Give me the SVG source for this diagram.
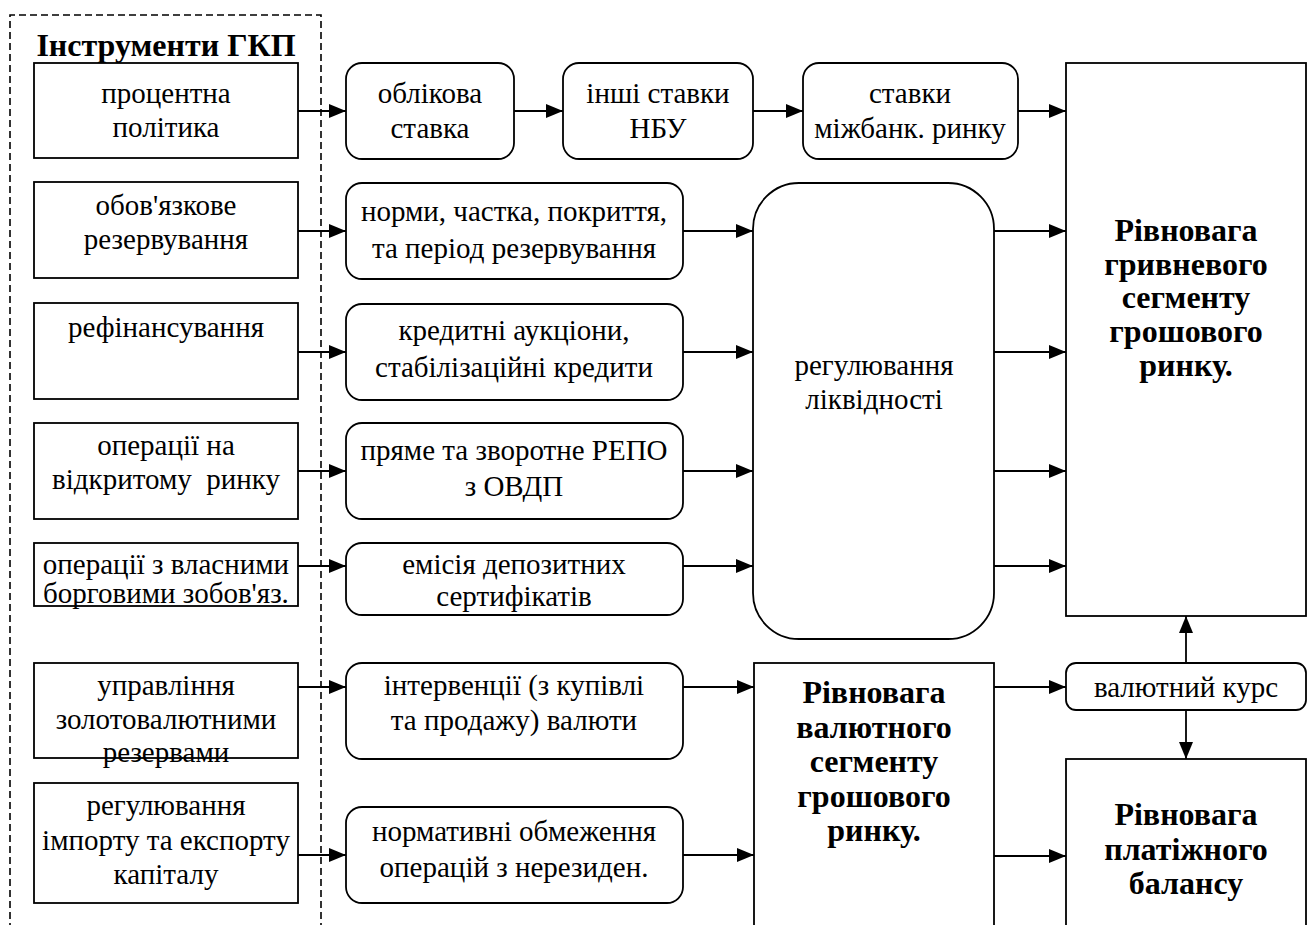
<svg xmlns="http://www.w3.org/2000/svg" width="1307" height="925" viewBox="0 0 1307 925">
<style>
.b{fill:#fff;stroke:#000;stroke-width:1.8}
.t{font-family:'Liberation Serif','Times New Roman',serif;font-size:29px;fill:#000;text-anchor:middle}
.tb{font-family:'Liberation Serif','Times New Roman',serif;font-size:32px;font-weight:bold;fill:#000;text-anchor:middle}
.c{stroke:#000;stroke-width:1.8;fill:none;marker-end:url(#ah)}
</style>
<defs>
<marker id="ah" markerUnits="userSpaceOnUse" markerWidth="17" markerHeight="14" refX="17" refY="7" orient="auto">
<path d="M0,0 L17,7 L0,14 z" fill="#000"/>
</marker>
</defs>
<rect width="1307" height="925" fill="#fff"/>
<g id="group-border">
<path d="M10,930 L10,15 L321,15 L321,930" fill="none" stroke="#000" stroke-width="1.6" stroke-dasharray="7,4"/>
<text class="tb" x="166" y="56">Інструменти ГКП</text>
</g>
<g id="n-proc"><rect class="b" x="34" y="63" width="264" height="95"/><text class="t" x="166" y="103">процентна</text><text class="t" x="166" y="137">політика</text></g>
<g id="n-oboviaz"><rect class="b" x="34" y="182" width="264" height="96"/><text class="t" x="166" y="215">обов'язкове</text><text class="t" x="166" y="249">резервування</text></g>
<g id="n-refin"><rect class="b" x="34" y="303" width="264" height="96"/><text class="t" x="166" y="337">рефінансування</text></g>
<g id="n-oper"><rect class="b" x="34" y="423" width="264" height="96"/><text class="t" x="166" y="455">операції на</text><text class="t" x="166" y="489" xml:space="preserve">відкритому  ринку</text></g>
<g id="n-vlasn"><rect class="b" x="34" y="543" width="264" height="63"/><text class="t" x="166" y="574">операції з власними</text><text class="t" x="166" y="603">борговими зобов'яз.</text></g>
<g id="n-upr"><rect class="b" x="34" y="663" width="264" height="95"/><text class="t" x="166" y="695">управління</text><text class="t" x="166" y="729">золотовалютними</text><text class="t" x="166" y="762">резервами</text></g>
<g id="n-imp"><rect class="b" x="34" y="783" width="264" height="120"/><text class="t" x="166" y="815">регулювання</text><text class="t" x="166" y="850">імпорту та експорту</text><text class="t" x="166" y="884">капіталу</text></g>

<g id="n-oblik"><rect class="b" x="346" y="63" width="168" height="96" rx="16"/><text class="t" x="430" y="103">облікова</text><text class="t" x="430" y="138">ставка</text></g>
<g id="n-inshi"><rect class="b" x="563" y="63" width="190" height="96" rx="16"/><text class="t" x="658" y="103">інші ставки</text><text class="t" x="658" y="138">НБУ</text></g>
<g id="n-mizhb"><rect class="b" x="803" y="63" width="215" height="96" rx="16"/><text class="t" x="910" y="103">ставки</text><text class="t" x="910" y="138">міжбанк. ринку</text></g>

<g id="n-normy"><rect class="b" x="346" y="183" width="337" height="96" rx="16"/><text class="t" x="514" y="221">норми, частка, покриття,</text><text class="t" x="514" y="258">та період резервування</text></g>
<g id="n-kred"><rect class="b" x="346" y="304" width="337" height="96" rx="16"/><text class="t" x="514" y="340">кредитні аукціони,</text><text class="t" x="514" y="377">стабілізаційні кредити</text></g>
<g id="n-repo"><rect class="b" x="346" y="423" width="337" height="96" rx="16"/><text class="t" x="514" y="460">пряме та зворотне РЕПО</text><text class="t" x="514" y="496">з ОВДП</text></g>
<g id="n-emis"><rect class="b" x="346" y="543" width="337" height="72" rx="16"/><text class="t" x="514" y="574">емісія депозитних</text><text class="t" x="514" y="606">сертифікатів</text></g>
<g id="n-interv"><rect class="b" x="346" y="663" width="337" height="96" rx="16"/><text class="t" x="514" y="695">інтервенції (з купівлі</text><text class="t" x="514" y="730">та продажу) валюти</text></g>
<g id="n-norm"><rect class="b" x="346" y="807" width="337" height="96" rx="16"/><text class="t" x="514" y="841">нормативні обмеження</text><text class="t" x="514" y="877">операцій з нерезиден.</text></g>

<g id="n-likv"><rect class="b" x="753" y="183" width="241" height="456" rx="46"/><text class="t" x="874" y="375">регулювання</text><text class="t" x="874" y="409">ліквідності</text></g>
<g id="n-hryvn"><rect class="b" x="1066" y="63" width="240" height="553"/><text class="tb" x="1186" y="241">Рівновага</text><text class="tb" x="1186" y="275">гривневого</text><text class="tb" x="1186" y="308">сегменту</text><text class="tb" x="1186" y="342">грошового</text><text class="tb" x="1186" y="376">ринку.</text></g>
<g id="n-valseg"><rect class="b" x="754" y="663" width="240" height="280"/><text class="tb" x="874" y="703">Рівновага</text><text class="tb" x="874" y="738">валютного</text><text class="tb" x="874" y="772">сегменту</text><text class="tb" x="874" y="807">грошового</text><text class="tb" x="874" y="841">ринку.</text></g>
<g id="n-kurs"><rect class="b" x="1066" y="663" width="240" height="47" rx="10"/><text class="t" x="1186" y="697">валютний курс</text></g>
<g id="n-plat"><rect class="b" x="1066" y="759" width="240" height="190"/><text class="tb" x="1186" y="825">Рівновага</text><text class="tb" x="1186" y="860">платіжного</text><text class="tb" x="1186" y="894">балансу</text></g>

<g id="connectors">
<path class="c" d="M298,111 H346"/>
<path class="c" d="M514,111 H563"/>
<path class="c" d="M753,111 H803"/>
<path class="c" d="M1018,111 H1066"/>
<path class="c" d="M298,231 H346"/>
<path class="c" d="M298,352 H346"/>
<path class="c" d="M298,471 H346"/>
<path class="c" d="M298,566 H346"/>
<path class="c" d="M298,687 H346"/>
<path class="c" d="M298,855 H346"/>
<path class="c" d="M683,231 H753"/>
<path class="c" d="M683,352 H753"/>
<path class="c" d="M683,471 H753"/>
<path class="c" d="M683,566 H753"/>
<path class="c" d="M994,231 H1066"/>
<path class="c" d="M994,352 H1066"/>
<path class="c" d="M994,471 H1066"/>
<path class="c" d="M994,566 H1066"/>
<path class="c" d="M683,687 H754"/>
<path class="c" d="M683,855 H754"/>
<path class="c" d="M994,687 H1066"/>
<path class="c" d="M994,856 H1066"/>
<path class="c" d="M1186,663 V616"/>
<path class="c" d="M1186,710 V759"/>
</g>
</svg>
